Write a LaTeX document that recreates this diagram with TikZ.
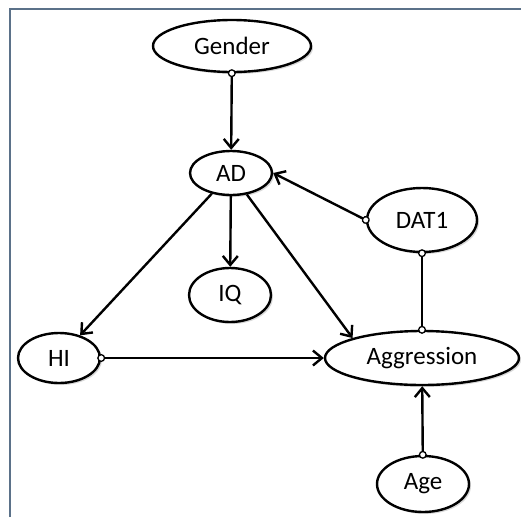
\documentclass[tikz,border=0pt]{standalone}
\usepackage{fontspec}
\setmainfont{Carlito}
\usetikzlibrary{arrows.meta,shadows,shapes.geometric}
\definecolor{framecol}{HTML}{5B7189}
\tikzset{
  var/.style={ellipse, draw, line width=2.4pt, fill=white, inner sep=0pt,
    font=\fontsize{25}{27}\selectfont,
    drop shadow={opacity=0.3, shadow xshift=2pt, shadow yshift=-2pt}},
  link/.style={line width=2.4pt},
  head/.tip={Straight Barb[length=9pt,width=15pt,line width=2.4pt]},
  knob/.tip={Circle[open,fill=white,length=8pt,width=8pt,line width=1.3pt]},
  frameline/.style={draw=framecol, line width=2.4pt}
}
\begin{document}
\begin{tikzpicture}[x=1pt,y=-1pt]
\useasboundingbox (0,0) rectangle (521,517);
\fill[white] (0,0) rectangle (521,517);
% window frame
\coordinate (fb) at (10,517);
\coordinate (fc) at (10,9);
\coordinate (fr) at (521,9);
\draw[frameline] (fb) -- (fc) -- (fr);

% variables
\node[var, minimum width=158pt, minimum height=52pt] (gender) at (232,46) {Gender};
\node[var, minimum width=82pt, minimum height=44pt] (ad) at (231,173) {AD};
\node[var, minimum width=110pt, minimum height=64pt] (dat) at (422,220) {DAT1};
\node[var, minimum width=82pt, minimum height=54pt] (iq) at (230,295) {IQ};
\node[var, minimum width=82pt, minimum height=50pt] (hi) at (59,358) {HI};
\node[var, minimum width=194pt, minimum height=54pt] (agg) at (422,358) {Aggression};
\node[var, minimum width=92pt, minimum height=56pt] (age) at (423,484) {Age};

% paths
\draw[link, knob-head, shorten <=-4pt] (gender) -- (ad);
\draw[link, -head] (ad) -- (hi);
\draw[link, -head] (ad) -- (iq);
\draw[link, -head] (ad) -- (agg.north west);
\draw[link, knob-head, shorten <=-4pt] (dat.west) -- (ad.east);
\draw[link, knob-knob, shorten <=-4pt, shorten >=-4pt] (dat) -- (agg.north -| dat);
\draw[link, knob-head, shorten <=-4pt] (hi) -- (agg);
\draw[link, knob-head, shorten <=-4pt] (age) -- (agg);
\end{tikzpicture}
\end{document}
